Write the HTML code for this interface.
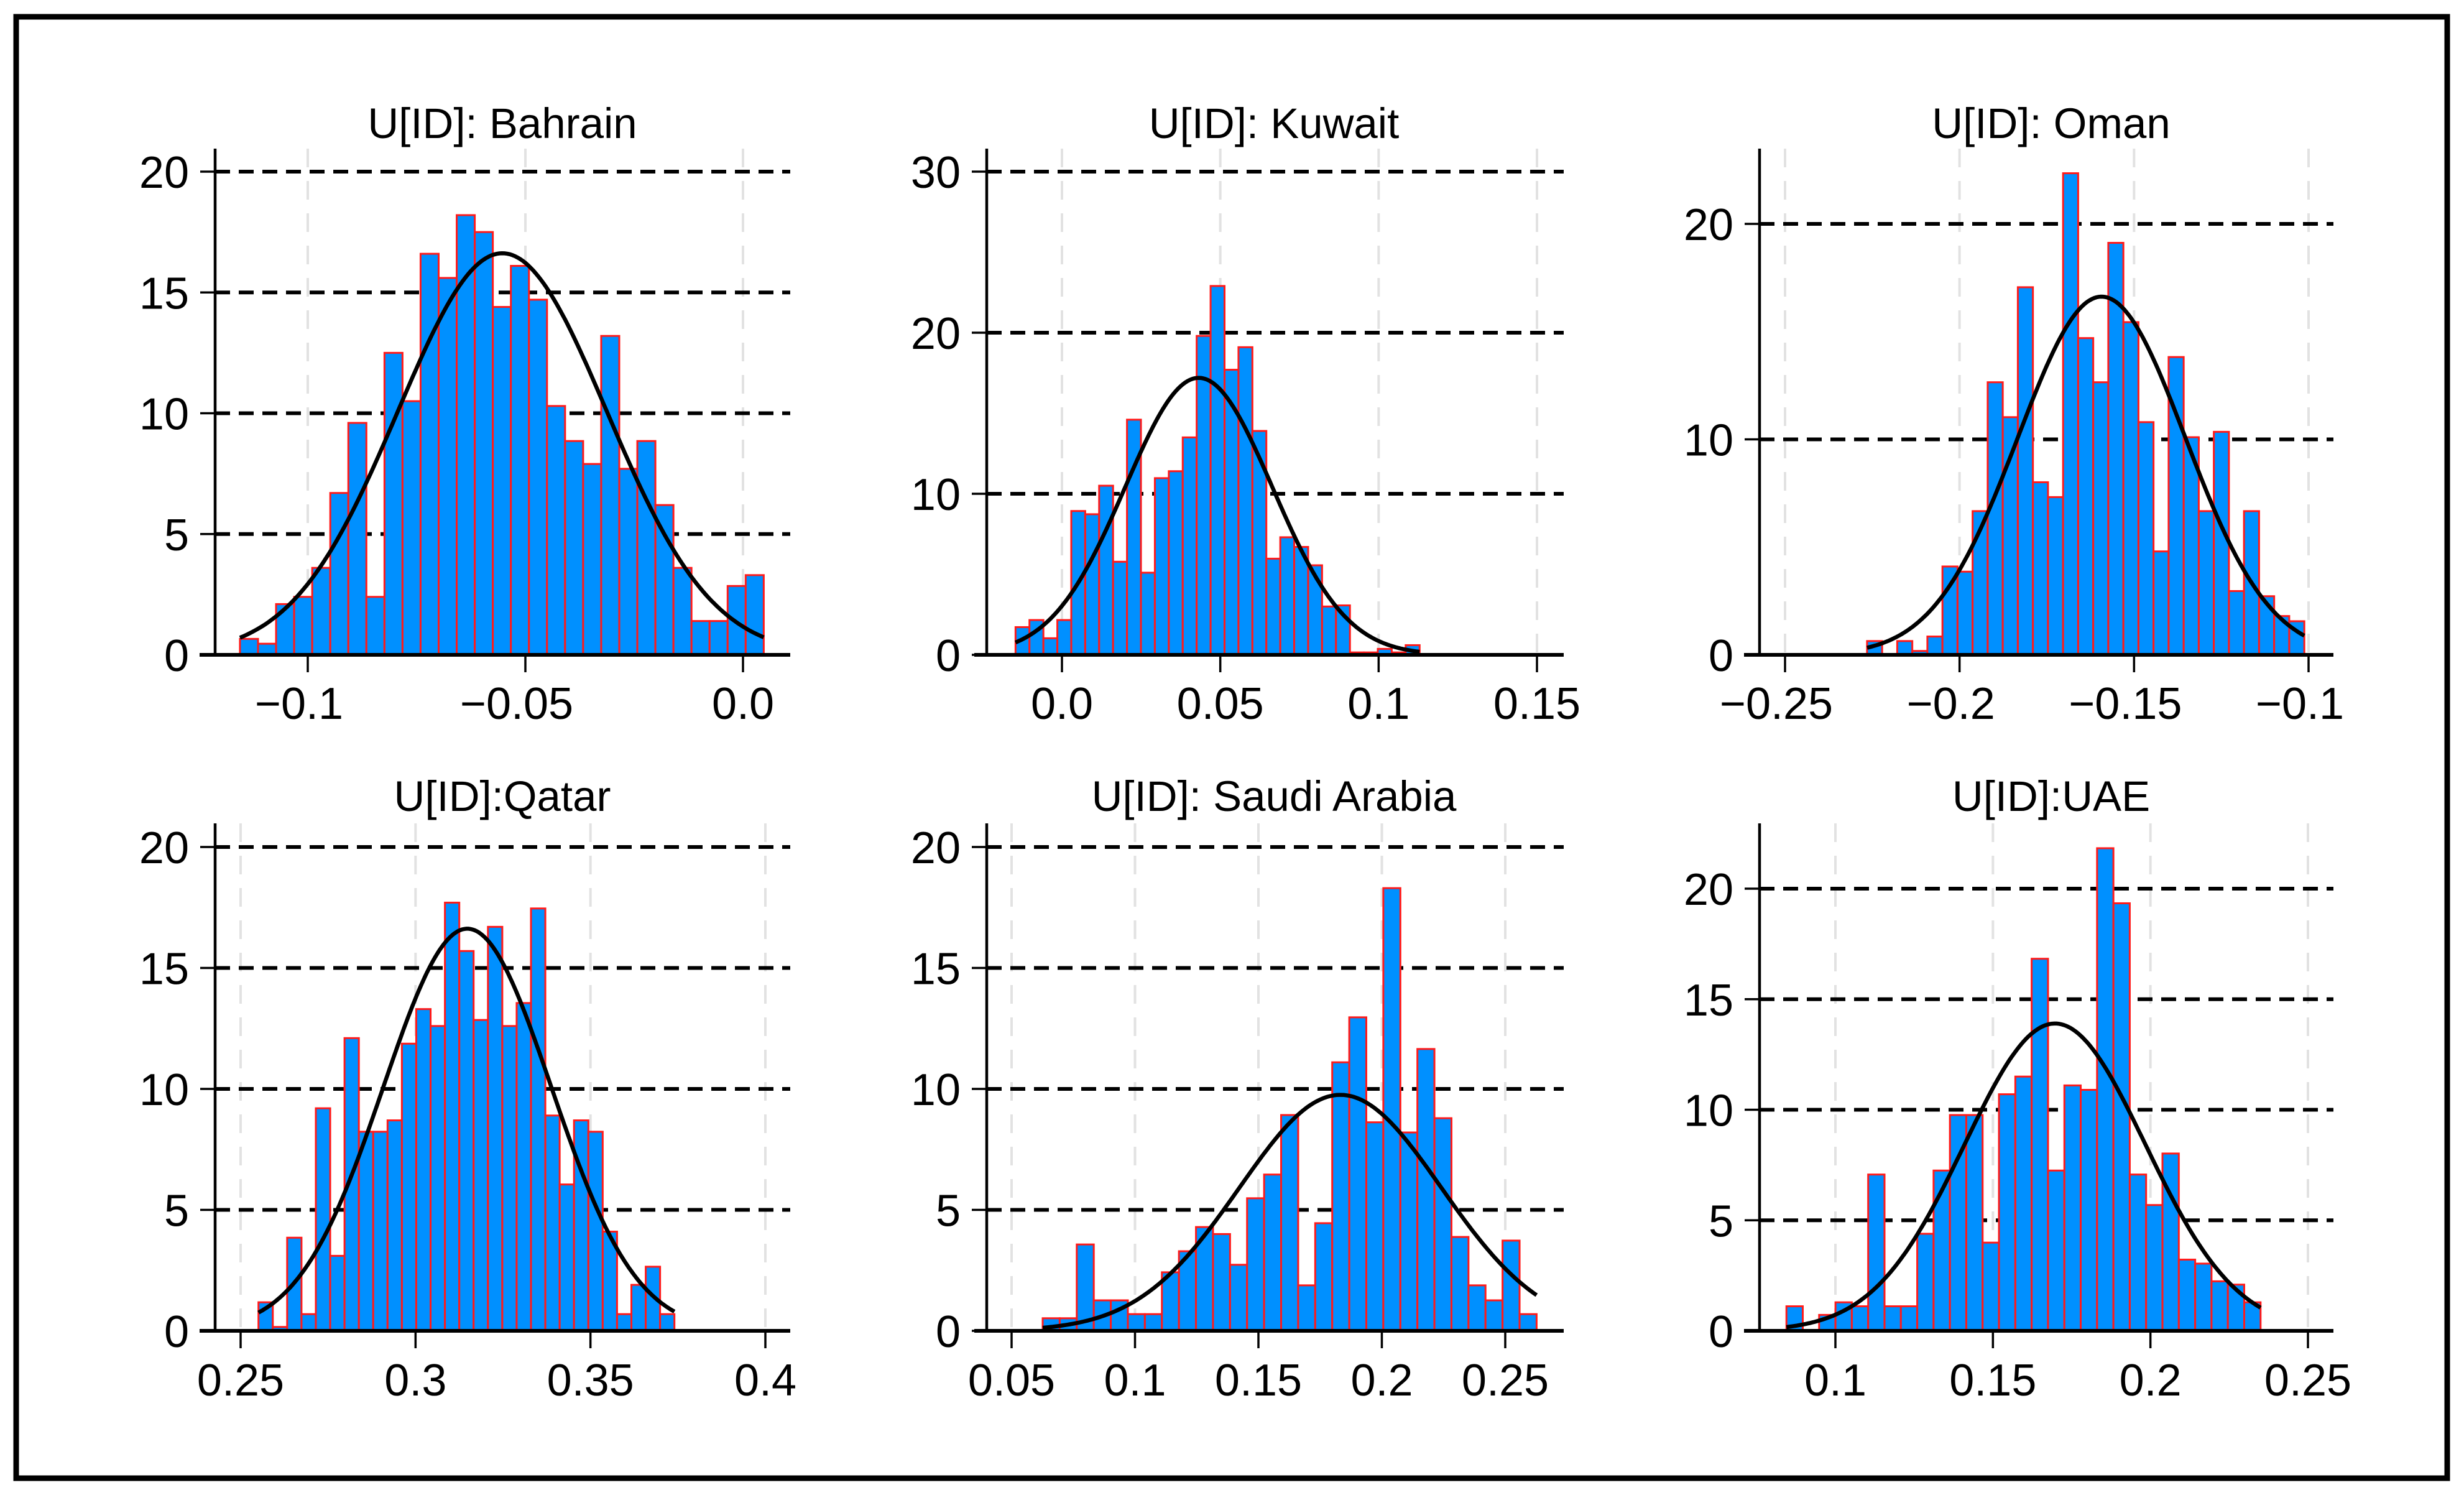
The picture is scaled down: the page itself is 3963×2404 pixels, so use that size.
<!DOCTYPE html>
<html><head><meta charset="utf-8">
<style>
html,body{margin:0;padding:0;background:#fff;}
svg{display:block;font-family:"Liberation Sans",Arial,sans-serif;}
</style></head>
<body>
<svg id="chart" width="3963" height="2404" viewBox="0 0 3963 2404" xmlns="http://www.w3.org/2000/svg">
<rect x="0" y="0" width="3963" height="2404" fill="#fff"/>
<rect x="26" y="27" width="3910" height="2350" fill="none" stroke="#000" stroke-width="9"/>
</svg>
<script>
// ---- data ----
const bahrainCounts=[0.66,0.46,2.1,2.4,3.6,6.7,9.6,2.4,12.5,10.5,16.6,15.6,18.2,17.5,14.4,16.1,14.7,10.3,8.85,7.9,13.2,7.7,8.85,6.2,3.6,1.4,1.4,2.85,3.3];
const kuwaitCounts=[1.72,2.16,1.03,2.16,8.93,8.73,10.5,5.78,14.6,5.1,10.97,11.4,13.5,19.8,22.9,17.7,19.1,13.9,5.97,7.3,6.7,5.56,3.0,3.07,0.15,0.15,0.37,0.15,0.6];
const omanCounts=[0.64,0,0.64,0.18,0.85,4.1,3.86,6.67,12.65,11.03,17.06,8.01,7.32,22.35,14.7,12.65,19.12,15.44,10.8,4.8,13.82,10.1,6.67,10.35,2.96,6.67,2.72,1.8,1.56];
const qatarCounts=[1.18,0.16,3.85,0.69,9.2,3.1,12.1,8.23,8.23,8.7,11.87,13.3,12.6,17.7,15.7,12.85,16.7,12.6,13.55,17.46,8.9,6.05,8.7,8.23,4.1,0.69,1.9,2.65,0.69];
const saudiCounts=[0.52,0.52,3.57,1.26,1.26,0.69,0.69,2.42,3.29,4.29,4.0,2.73,5.48,6.46,8.92,1.88,4.45,11.1,12.96,8.62,18.3,8.2,11.65,8.79,3.88,1.88,1.26,3.73,0.69];
const uaeCounts=[1.11,0,0.72,1.29,1.11,7.07,1.11,1.11,4.39,7.25,9.76,9.76,3.99,10.7,11.5,16.83,7.25,11.1,10.9,21.83,19.34,7.07,5.69,8.02,3.22,3.04,2.24,2.09,1.29];
const binStarts=[-0.11558,-0.01466,-0.2265,0.2551,0.0626,0.08445];
const binWidths=[0.00415,0.0044,0.00432,0.0041,0.0069,0.00519];
const means=[-0.0553,0.0432,-0.1593,0.3148,0.1832,0.1697];
const sds=[0.024,0.0232,0.024,0.024,0.0409,0.0287];
const titles=["U[ID]: Bahrain","U[ID]: Kuwait","U[ID]: Oman","U[ID]:Qatar","U[ID]: Saudi Arabia","U[ID]:UAE"];
const xTicks=[[-0.1,-0.05,0.0],[0.0,0.05,0.1,0.15],[-0.25,-0.2,-0.15,-0.1],[0.25,0.3,0.35,0.4],[0.05,0.1,0.15,0.2,0.25],[0.1,0.15,0.2,0.25]];
const xTickLabels=[["\u22120.1","\u22120.05","0.0"],["0.0","0.05","0.1","0.15"],["\u22120.25","\u22120.2","\u22120.15","\u22120.1"],["0.25","0.3","0.35","0.4"],["0.05","0.1","0.15","0.2","0.25"],["0.1","0.15","0.2","0.25"]];
const yTicks=[[0,5,10,15,20],[0,10,20,30],[0,10,20],[0,5,10,15,20],[0,5,10,15,20],[0,5,10,15,20]];
const allCounts=[bahrainCounts,kuwaitCounts,omanCounts,qatarCounts,saudiCounts,uaeCounts];
const names=["bahrain","kuwait","oman","qatar","saudi-arabia","uae"];

// ---- layout (pixel geometry, not data) ----
const layout=[
 {ax:346,x0:-0.1,px0:495,x1:0.0,px1:1195,l:321,r:1271,base:1053,top:239,ppu:38.85,title:198,lab:1130,tcx:808},
 {ax:1587,x0:0.0,px0:1708,x1:0.15,px1:2472,l:1567,r:2515,base:1053,top:239,ppu:25.9,title:198,lab:1130,tcx:2049},
 {ax:2830,x0:-0.25,px0:2871,x1:-0.1,px1:3713,l:2805,r:3753,base:1053,top:239,ppu:34.65,title:198,lab:1130,tcx:3299},
 {ax:346,x0:0.25,px0:387,x1:0.4,px1:1231,l:321,r:1271,base:2140,top:1324,ppu:38.9,title:1280,lab:2218,tcx:808},
 {ax:1587,x0:0.05,px0:1627,x1:0.25,px1:2421,l:1567,r:2515,base:2140,top:1324,ppu:38.9,title:1280,lab:2218,tcx:2049},
 {ax:2830,x0:0.1,px0:2952,x1:0.25,px1:3712,l:2805,r:3753,base:2140,top:1324,ppu:35.55,title:1280,lab:2218,tcx:3299}
];
const NS="http://www.w3.org/2000/svg";
const svg=document.getElementById('chart');
function mk(tag,attrs,parent){const e=document.createElementNS(NS,tag);for(const k in attrs)e.setAttribute(k,attrs[k]);(parent||svg).appendChild(e);return e;}

for(let p=0;p<6;p++){
  const L=layout[p];
  const xs=v=>L.px0+(v-L.x0)*(L.px1-L.px0)/(L.x1-L.x0);
  const ys=v=>L.base-v*L.ppu;
  const g=mk('g',{});
  
  
  xTicks[p].forEach(t=>{
    const ln=mk('line',{x1:xs(t),x2:xs(t),y1:L.top,y2:L.base,stroke:'#e2e2e2','stroke-width':4,'stroke-dasharray':'30 22'},g);
    
    
  });
  yTicks[p].forEach(t=>{
    if(t===0)return;
    const ln=mk('line',{x1:L.ax,x2:L.r,y1:ys(t),y2:ys(t),stroke:'#000','stroke-width':6,'stroke-dasharray':'24 14'},g);
    
    
  });
  const counts=allCounts[p];
  counts.forEach((c,i)=>{
    const a=binStarts[p]+i*binWidths[p], b=a+binWidths[p];
    const x=xs(a), w=xs(b)-xs(a);
    const r=mk('rect',{x:x,y:ys(c),width:w,height:Math.max(0,L.base-ys(c)),fill:'#0090ff',stroke:'#ff1a1a','stroke-width':3},g);
    
    
  });
  const xa=mk('line',{x1:L.l,x2:L.r,y1:L.base,y2:L.base,stroke:'#000','stroke-width':6},g);
  
  
  const ya=mk('line',{x1:L.ax,x2:L.ax,y1:L.top,y2:L.base,stroke:'#000','stroke-width':4.5},g);
  
  
  const a0=binStarts[p], a1=binStarts[p]+counts.length*binWidths[p];
  let d='';
  for(let k=0;k<=200;k++){
    const v=a0+(a1-a0)*k/200;
    const dens=Math.exp(-0.5*Math.pow((v-means[p])/sds[p],2))/(sds[p]*Math.sqrt(2*Math.PI));
    d+=(k?'L':'M')+xs(v).toFixed(1)+' '+ys(dens).toFixed(1);
  }
  const cv=mk('path',{d:d,fill:'none',stroke:'#000','stroke-width':6.5},g);
  
  
  xTicks[p].forEach((t,i)=>{
    const tk=mk('line',{x1:xs(t),x2:xs(t),y1:L.base,y2:L.base+28,stroke:'#000','stroke-width':3.5},g);
    
    
    const tx=mk('text',{x:xs(t)-(xTickLabels[p][i].charAt(0)==='\u2212'?14:0),y:L.lab+26,'font-size':72,'text-anchor':'middle',fill:'#000'},g);
    tx.textContent=xTickLabels[p][i];
    
    
  });
  yTicks[p].forEach(t=>{
    const tk=mk('line',{x1:L.ax-24,x2:L.ax,y1:ys(t),y2:ys(t),stroke:'#000','stroke-width':3.5},g);
    
    
    const tx=mk('text',{x:L.ax-42,y:ys(t)+26,'font-size':72,'text-anchor':'end',fill:'#000'},g);
    tx.textContent=String(t);
    
    
  });
  const tt=mk('text',{x:L.tcx,y:L.title+24,'font-size':69,'text-anchor':'middle',fill:'#000'},g);
  tt.textContent=titles[p];
  
  
}
</script>
</body></html>
